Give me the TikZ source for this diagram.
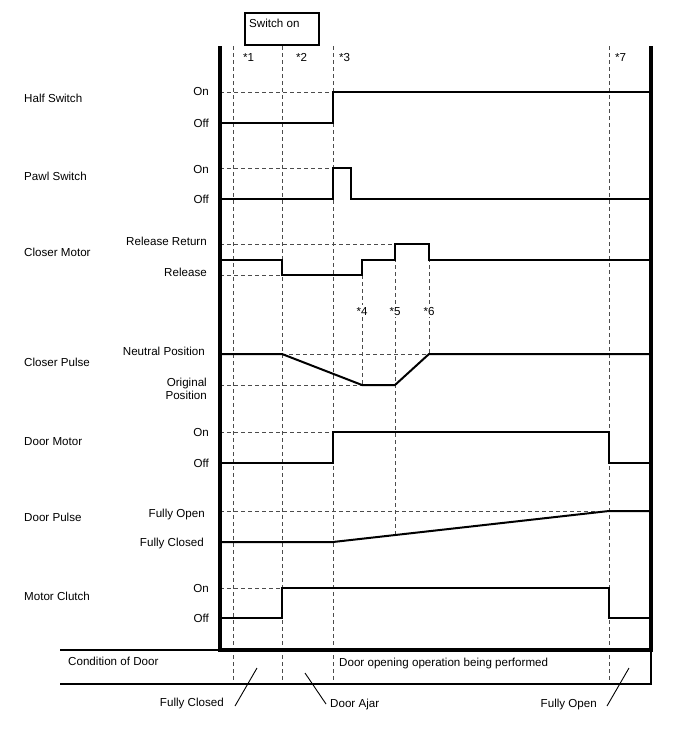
\documentclass[tikz,border=0pt]{standalone}
\usepackage{fontspec}
\setmainfont{Liberation Sans}
\begin{document}
\begin{tikzpicture}[x=1pt,y=-1pt,
  sig/.style={line width=2pt, line join=miter},
  gridline/.style={line width=0.9pt, dash pattern=on 4pt off 3pt, draw=black!70},
  framel/.style={line width=4pt, line join=miter},
  thin/.style={line width=1.2pt},
  txt/.style={inner sep=0pt, font=\fontsize{11.6}{13.5}\selectfont},
  rl/.style={txt, anchor=base east},
  ll/.style={txt, anchor=base west},
  star/.style={txt, anchor=base, fill=white, inner xsep=1pt, inner ysep=2pt}]
\useasboundingbox (0,0) rectangle (688,755);

% Switch on box
\draw[thin] (245,13) rectangle (319,45);
\node[ll] (swon) at (249,27) {Switch on};

% dashed verticals
\foreach \x in {233,282,333,609} \draw[gridline] (\x,46) -- (\x,684);
\draw[gridline] (362,275) -- (362,385);
\draw[gridline] (395,244) -- (395,535);
\draw[gridline] (429,244) -- (429,354);

% dashed horizontals
\draw[gridline] (220,92) -- (333,92);
\draw[gridline] (220,168) -- (333,168);
\draw[gridline] (220,244) -- (395,244);
\draw[gridline] (220,275) -- (282,275);
\draw[gridline] (282,354) -- (429,354);
\draw[gridline] (220,385) -- (362,385);
\draw[gridline] (220,432) -- (333,432);
\draw[gridline] (220,511) -- (609,511);
\draw[gridline] (220,588) -- (282,588);

% star labels
\node[ll] (s1) at (243,61) {*1};
\node[ll] (s2) at (296,61) {*2};
\node[ll] (s3) at (339,61) {*3};
\node[ll] (s7) at (615,61) {*7};
\node[star] (s4) at (362,315) {*4};
\node[star] (s5) at (395,315) {*5};
\node[star] (s6) at (429,315) {*6};

% signals
\draw[sig] (220,123) -- (333,123) -- (333,92) -- (651,92);
\draw[sig] (220,199) -- (333,199) -- (333,168) -- (351,168) -- (351,199) -- (651,199);
\draw[sig] (220,260) -- (282,260) -- (282,275) -- (362,275) -- (362,260) -- (395,260) -- (395,244) -- (429,244) -- (429,260) -- (651,260);
\draw[sig] (220,354) -- (282,354) -- (362,385) -- (395,385) -- (429,354) -- (651,354);
\draw[sig] (220,463) -- (333,463) -- (333,432) -- (609,432) -- (609,463) -- (651,463);
\draw[sig] (220,542) -- (333,542) -- (609,511) -- (651,511);
\draw[sig] (220,618) -- (282,618) -- (282,588) -- (609,588) -- (609,618) -- (651,618);

% frame
\draw[framel] (220,46) -- (220,650) -- (651,650) -- (651,46);

% table
\draw[thin] (60,650) -- (220,650);
\draw[thin] (60,684) -- (651,684) -- (651,650);

% left labels
\node[ll] (hs) at (24,102) {Half Switch};
\node[ll] (ps) at (24,180) {Pawl Switch};
\node[ll] (cm) at (24,256) {Closer Motor};
\node[ll] (cp) at (24,366) {Closer Pulse};
\node[ll] (dm) at (24,445) {Door Motor};
\node[ll] (dp) at (24,521) {Door Pulse};
\node[ll] (mc) at (24,600) {Motor Clutch};

% level labels
\node[rl] (hson) at (209,95) {On};
\node[rl] (hsoff) at (209,127) {Off};
\node[rl] (pson) at (209,173) {On};
\node[rl] (psoff) at (209,203) {Off};
\node[rl] (rr) at (207,245) {Release Return};
\node[rl] (rel) at (207,276) {Release};
\node[rl] (np) at (205,355) {Neutral Position};
\node[rl] (op1) at (207,386) {Original};
\node[rl] (op2) at (207,399) {Position};
\node[rl] (dmon) at (209,436) {On};
\node[rl] (dmoff) at (209,467) {Off};
\node[rl] (fo) at (205,517) {Fully Open};
\node[rl] (fc) at (204,546) {Fully Closed};
\node[rl] (mcon) at (209,592) {On};
\node[rl] (mcoff) at (209,622) {Off};

% table text
\node[ll] (cod) at (68,665) {Condition of Door};
\node[ll] (dop) at (339,666) {Door opening operation being performed};

% callouts
\node[rl] (fcl) at (224,706) {Fully Closed};
\node[ll] (da) at (330,707) {Door Ajar};
\node[rl] (fol) at (597,707) {Fully Open};
\coordinate (fcA) at (235,706); \coordinate (fcB) at (257,668);
\coordinate (daA) at (305,673); \coordinate (daB) at (326,704);
\coordinate (foA) at (607,706); \coordinate (foB) at (629,668);
\draw[line width=0.9pt] (fcA) -- (fcB);
\draw[line width=0.9pt] (daA) -- (daB);
\draw[line width=0.9pt] (foA) -- (foB);
\end{tikzpicture}
\end{document}
